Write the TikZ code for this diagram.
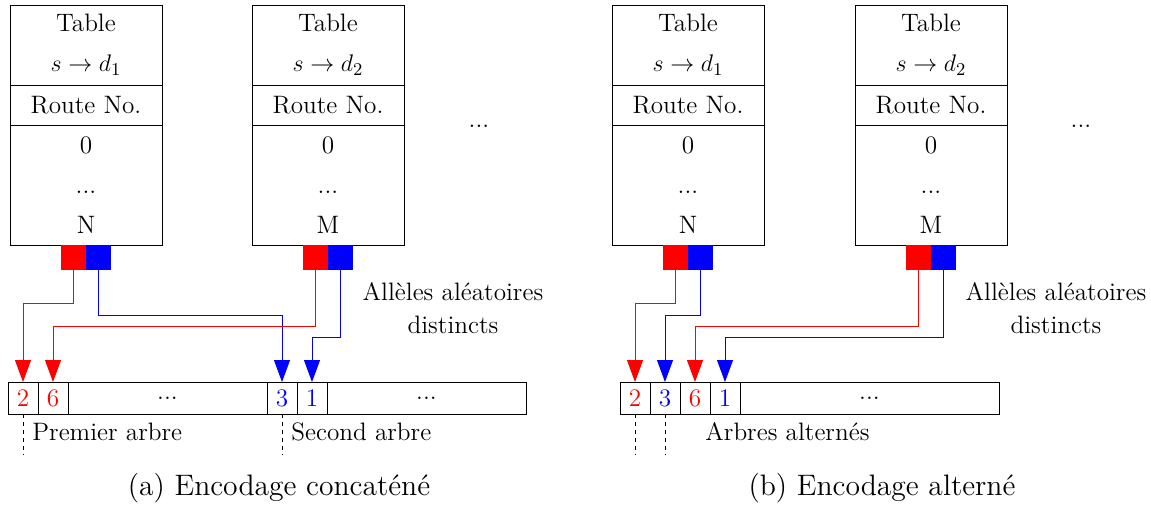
\documentclass[tikz,border=0pt,12pt]{standalone}
\usetikzlibrary{positioning,arrows.meta}
\tikzset{
  sec/.style={draw, minimum width=76pt, inner sep=0pt, outer sep=0pt, align=center, font=\fontsize{12.6}{20}\selectfont},
  allele/.style={minimum width=12.5pt, minimum height=12.5pt, inner sep=0pt, outer sep=0pt},
  cell/.style={draw, minimum width=15pt, minimum height=16pt, inner sep=0pt, outer sep=0pt},
  wire/.style={-{Triangle[length=11pt,width=8pt]}},
  guide/.style={dash pattern=on 2pt off 2pt},
  lab/.style={inner sep=0pt, anchor=base west},
  caption/.style={anchor=base, font=\fontsize{14.8}{18}\selectfont}
}
\begin{document}
\begin{tikzpicture}[x=0.5pt,y=-0.5pt,font=\fontsize{12.6}{15}\selectfont]
      \useasboundingbox (0,0) rectangle (1151,508);
      % tables
      \node[sec, minimum height=40pt] (t1a) at (86,45) {Table\\$s\to d_1$};
      \node[sec, minimum height=20pt, below=0pt of t1a] (t1b) {Route No.};
      \node[sec, minimum height=60pt, below=0pt of t1b] (t1c) {0\\...\\N};
      \node[sec, minimum height=40pt] (t2a) at (328,45) {Table\\$s\to d_2$};
      \node[sec, minimum height=20pt, below=0pt of t2a] (t2b) {Route No.};
      \node[sec, minimum height=60pt, below=0pt of t2b] (t2c) {0\\...\\M};
      \node[sec, minimum height=40pt] (t3a) at (688,45) {Table\\$s\to d_1$};
      \node[sec, minimum height=20pt, below=0pt of t3a] (t3b) {Route No.};
      \node[sec, minimum height=60pt, below=0pt of t3b] (t3c) {0\\...\\N};
      \node[sec, minimum height=40pt] (t4a) at (931,45) {Table\\$s\to d_2$};
      \node[sec, minimum height=20pt, below=0pt of t4a] (t4b) {Route No.};
      \node[sec, minimum height=60pt, below=0pt of t4b] (t4c) {0\\...\\M};
      \node[anchor=base] (more1) at (479,127) {...};
      \node[anchor=base] (more2) at (1081,127) {...};
      % alleles
      \node[allele, fill=red, anchor=north east] (r1) at (t1c.south) {};
      \node[allele, fill=blue, anchor=north west] (b1) at (t1c.south) {};
      \node[allele, fill=red, anchor=north east] (r2) at (t2c.south) {};
      \node[allele, fill=blue, anchor=north west] (b2) at (t2c.south) {};
      \node[allele, fill=red, anchor=north east] (r3) at (t3c.south) {};
      \node[allele, fill=blue, anchor=north west] (b3) at (t3c.south) {};
      \node[allele, fill=red, anchor=north east] (r4) at (t4c.south) {};
      \node[allele, fill=blue, anchor=north west] (b4) at (t4c.south) {};
      \node[align=center, font=\fontsize{12.6}{16.5}\selectfont] (al1) at (453,308) {Allèles aléatoires\\distincts};
      \node[align=center, font=\fontsize{12.6}{16.5}\selectfont] (al2) at (1056,308) {Allèles aléatoires\\distincts};
      % concatenated chromosome
      \node[cell, text=red] (a2) at (23,398) {2};
      \node[cell, text=red, right=0pt of a2] (a6) {6};
      \node[cell, minimum width=99.5pt, right=0pt of a6] (ad) {...};
      \node[cell, text=blue, right=0pt of ad] (a3) {3};
      \node[cell, text=blue, right=0pt of a3] (a1) {1};
      \node[cell, minimum width=99.5pt, right=0pt of a1] (ae) {...};
      % alternated chromosome
      \node[cell, text=red] (p2) at (635,398) {2};
      \node[cell, text=blue, right=0pt of p2] (p3) {3};
      \node[cell, text=red, right=0pt of p3] (p6) {6};
      \node[cell, text=blue, right=0pt of p6] (p1) {1};
      \node[cell, minimum width=129.5pt, right=0pt of p1] (pd) {...};
      \node[lab] (first) at (32,440) {Premier arbre};
      \node[lab] (second) at (291,440) {Second arbre};
      \node[lab] (both) at (705,440) {Arbres alternés};
      \node[caption] (capa) at (279,495) {(a) Encodage concaténé};
      \node[caption] (capb) at (882,495) {(b) Encodage alterné};
      \begin{scope}[wire]
        \draw[red] (r1.south) -- ++(0,33) -| (a2.north);
        \draw[blue] (b1.south) -- ++(0,45) -| (a3.north);
        \draw[red] (r2.south) -- ++(0,56) -| (a6.north);
        \draw[blue] (b2.south) -- ++(0,67) -| (a1.north);
        \draw[red] (r3.south) -- ++(0,33) -| (p2.north);
        \draw[blue] (b3.south) -- ++(0,45) -| (p3.north);
        \draw[red] (r4.south) -- ++(0,56) -| (p6.north);
        \draw[blue] (b4.south) -- ++(0,67) -| (p1.north);
      \end{scope}
      \begin{scope}[guide]
        \draw (a2.south) -- ++(0,41);
        \draw (a3.south) -- ++(0,41);
        \draw (p2.south) -- ++(0,41);
        \draw (p3.south) -- ++(0,41);
      \end{scope}
    \end{tikzpicture}
\end{document}
